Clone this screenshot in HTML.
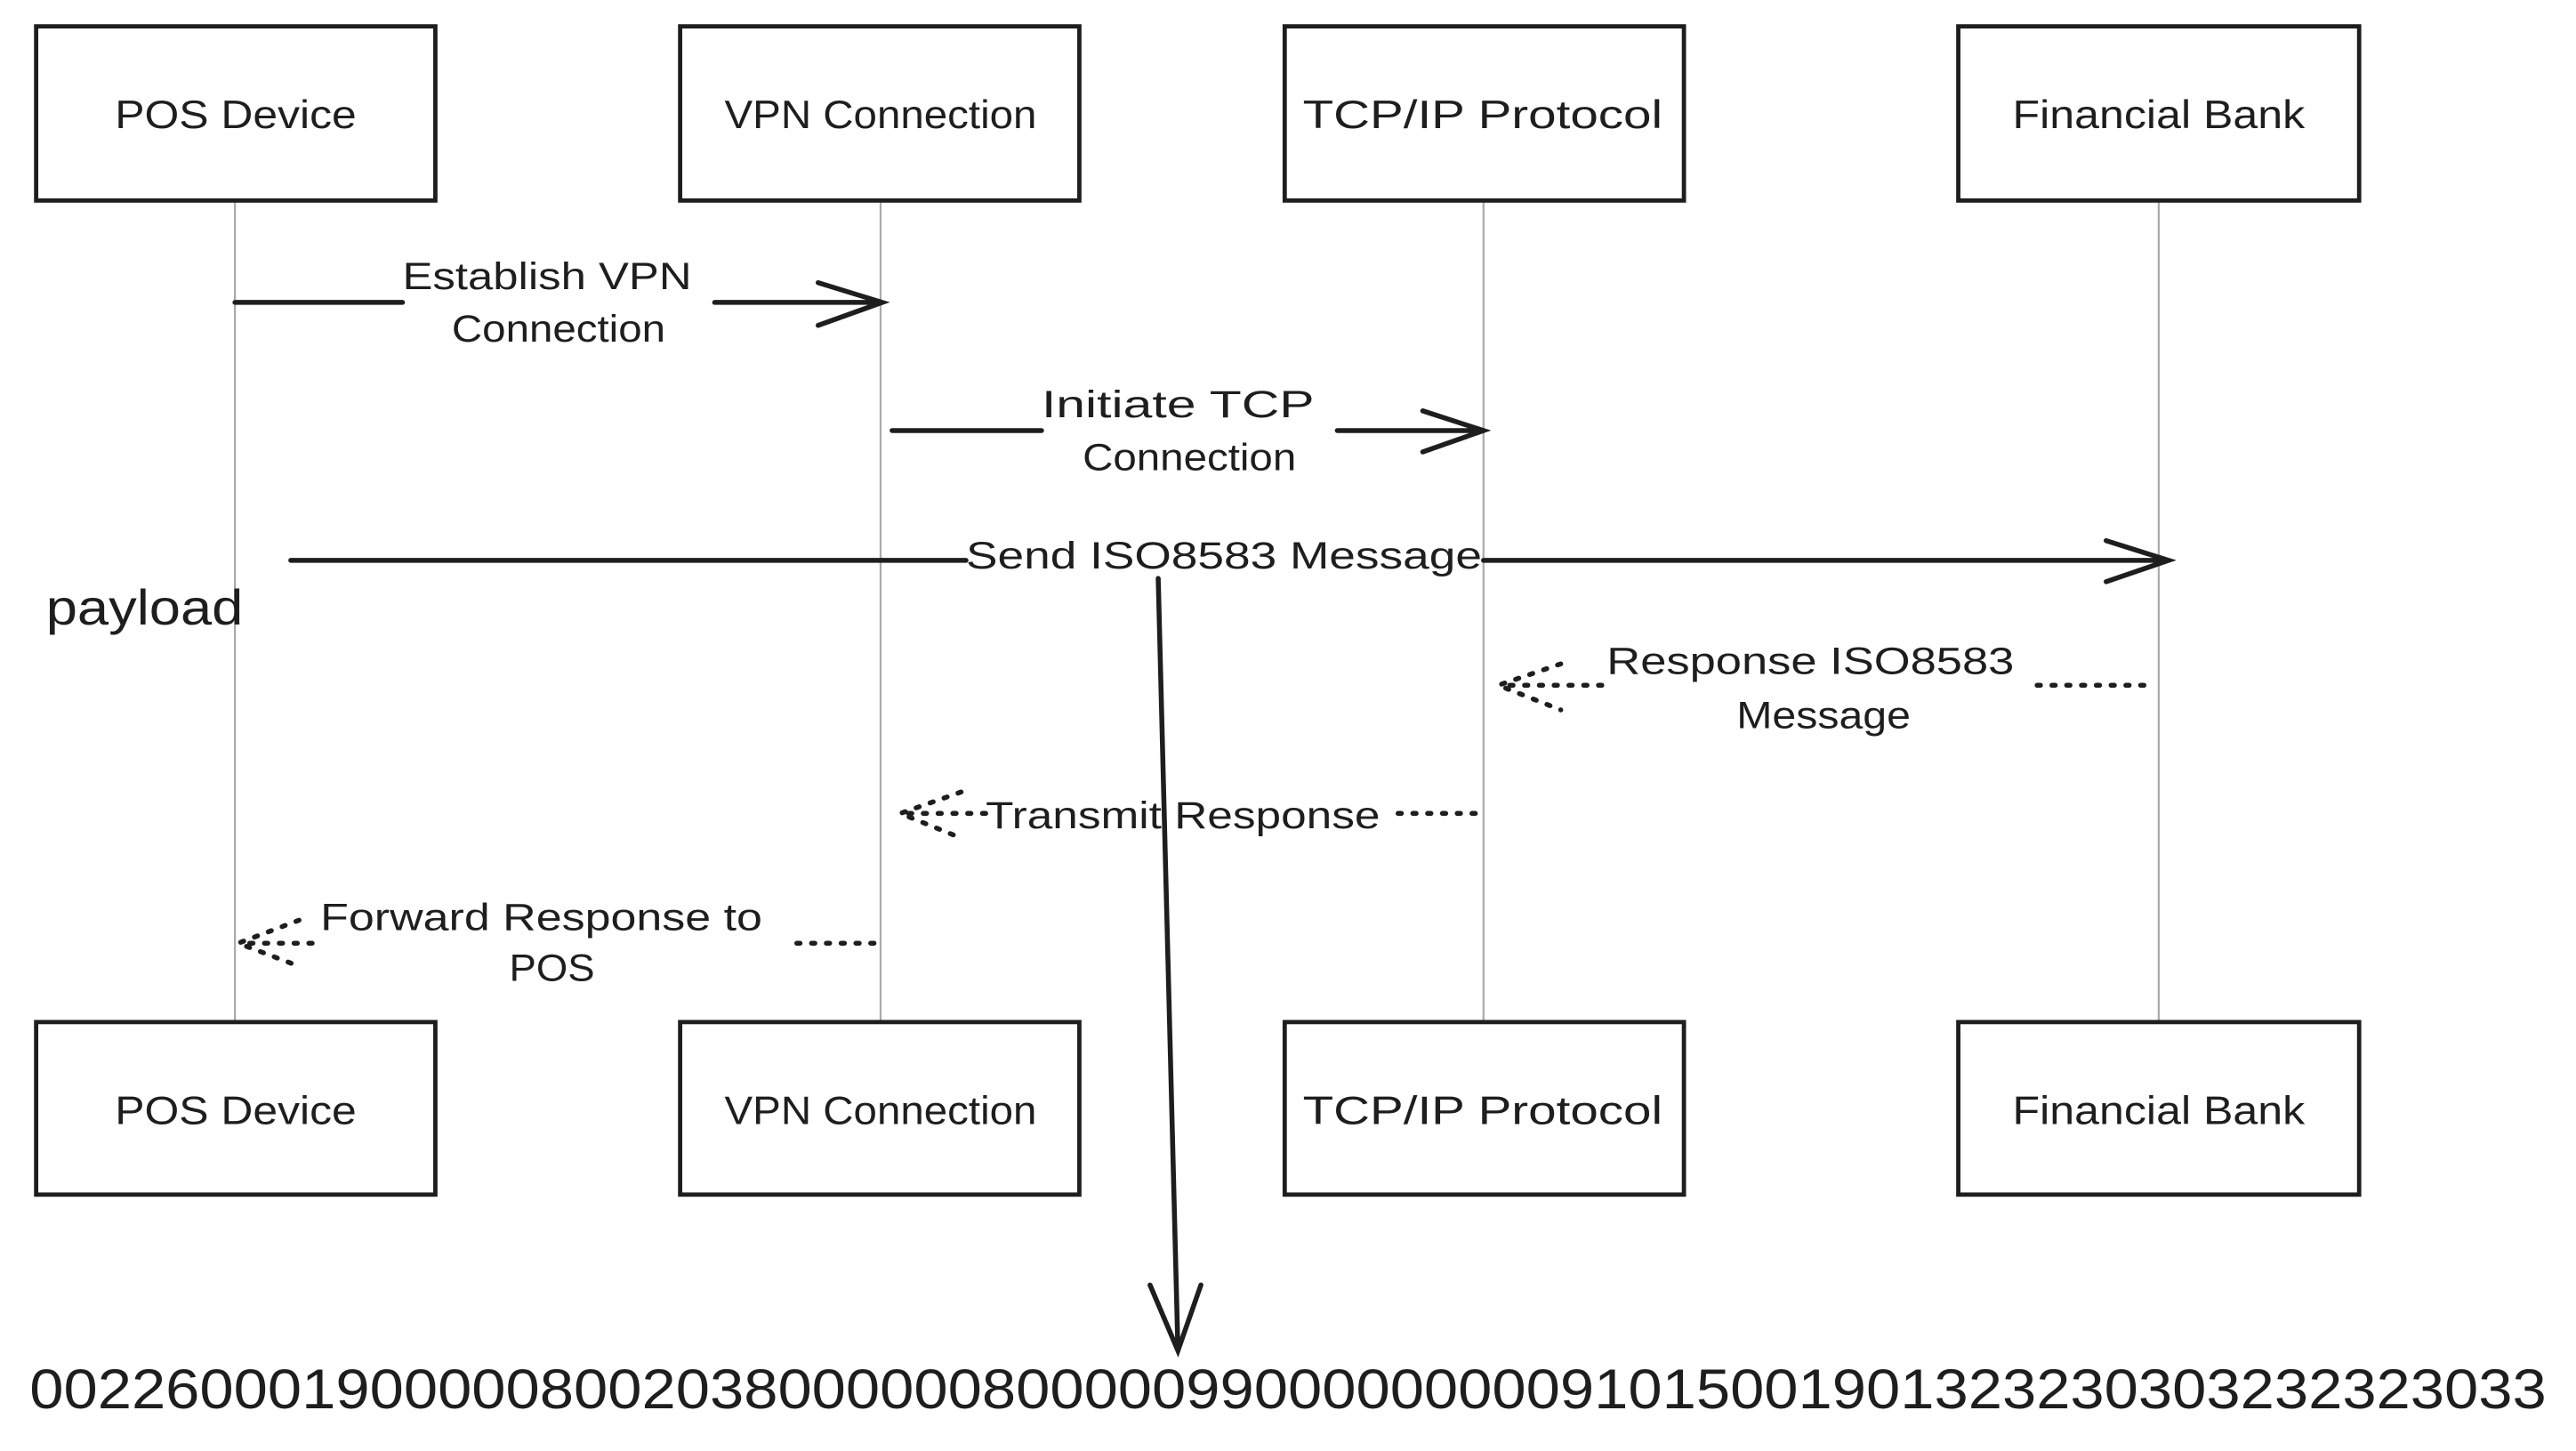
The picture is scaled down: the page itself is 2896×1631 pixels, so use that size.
<!DOCTYPE html>
<html><head><meta charset="utf-8"><style>
html,body{margin:0;padding:0;background:#fff}
svg{display:block}
text{font-family:"Liberation Sans",sans-serif;fill:#1e1e1e}
</style></head><body>
<svg width="2896" height="1631" viewBox="0 0 1568 883" xmlns="http://www.w3.org/2000/svg">
<rect width="1568" height="883" fill="#fff"/>
<g stroke="#aaa" stroke-width="1.2">
<line x1="143" y1="122" x2="143" y2="622"/>
<line x1="536" y1="122" x2="536" y2="622"/>
<line x1="903" y1="122" x2="903" y2="622"/>
<line x1="1314" y1="122" x2="1314" y2="622"/>
</g>
<g fill="#fff" stroke="#1e1e1e" stroke-width="2.6">
<rect x="22" y="16" width="243" height="106"/>
<rect x="414" y="16" width="243" height="106"/>
<rect x="782" y="16" width="243" height="106"/>
<rect x="1192" y="16" width="244" height="106"/>
<rect x="22" y="622" width="243" height="105"/>
<rect x="414" y="622" width="243" height="105"/>
<rect x="782" y="622" width="243" height="105"/>
<rect x="1192" y="622" width="244" height="105"/>
</g>
<g font-size="24" lengthAdjust="spacingAndGlyphs">
<text x="70" y="78" textLength="147" lengthAdjust="spacingAndGlyphs">POS Device</text>
<text x="441" y="78" textLength="190" lengthAdjust="spacingAndGlyphs">VPN Connection</text>
<text x="793" y="78" textLength="219" lengthAdjust="spacingAndGlyphs">TCP/IP Protocol</text>
<text x="1225" y="78" textLength="178" lengthAdjust="spacingAndGlyphs">Financial Bank</text>
<text x="70" y="684" textLength="147" lengthAdjust="spacingAndGlyphs">POS Device</text>
<text x="441" y="684" textLength="190" lengthAdjust="spacingAndGlyphs">VPN Connection</text>
<text x="793" y="684" textLength="219" lengthAdjust="spacingAndGlyphs">TCP/IP Protocol</text>
<text x="1225" y="684" textLength="178" lengthAdjust="spacingAndGlyphs">Financial Bank</text>
</g>
<g stroke="#1e1e1e" stroke-width="3" fill="none" stroke-linecap="round">
<path d="M143 184 H245 M435 184 H537 M498 172 L537 184 L498 198"/>
<path d="M543 262 H634 M814 262 H903 M866 250 L903 262 L866 275"/>
<path d="M177 341 H588 M903 341 H1320 M1282 329 L1320 341 L1282 354"/>
<path d="M705 352 L717 822 M700 782 L717 822 L731 782"/>
</g>
<g stroke="#1e1e1e" stroke-width="3" fill="none" stroke-dasharray="2 7" stroke-linecap="round">
<path d="M1240 417 H1305 M975 417 H912 M950 404 L912 417 L950 432"/>
<path d="M898 495 H845 M600 495 H548 M585 482 L548 495 L585 510"/>
<path d="M532 574 H478 M190 574 H145 M182 560 L145 574 L182 588"/>
</g>
<g font-size="23">
<text x="245" y="176" textLength="176" lengthAdjust="spacingAndGlyphs">Establish VPN</text>
<text x="275" y="208" textLength="130" lengthAdjust="spacingAndGlyphs">Connection</text>
<text x="634" y="254" textLength="166" lengthAdjust="spacingAndGlyphs">Initiate TCP</text>
<text x="659" y="286" textLength="130" lengthAdjust="spacingAndGlyphs">Connection</text>
<text x="588" y="346" textLength="314" lengthAdjust="spacingAndGlyphs">Send ISO8583 Message</text>
<text x="978" y="410" textLength="248" lengthAdjust="spacingAndGlyphs">Response ISO8583</text>
<text x="1057" y="443" textLength="106" lengthAdjust="spacingAndGlyphs">Message</text>
<text x="600" y="504" textLength="240" lengthAdjust="spacingAndGlyphs">Transmit Response</text>
<text x="195" y="566" textLength="269" lengthAdjust="spacingAndGlyphs">Forward Response to</text>
<text x="310" y="597" textLength="52" lengthAdjust="spacingAndGlyphs">POS</text>
</g>
<text x="28" y="380" font-size="30" textLength="120" lengthAdjust="spacingAndGlyphs">payload</text>
<text x="18" y="857" font-size="34" textLength="1532" lengthAdjust="spacingAndGlyphs">00226000190000080020380000008000009900000000091015001901323230303232323033</text>
</svg>
</body></html>
